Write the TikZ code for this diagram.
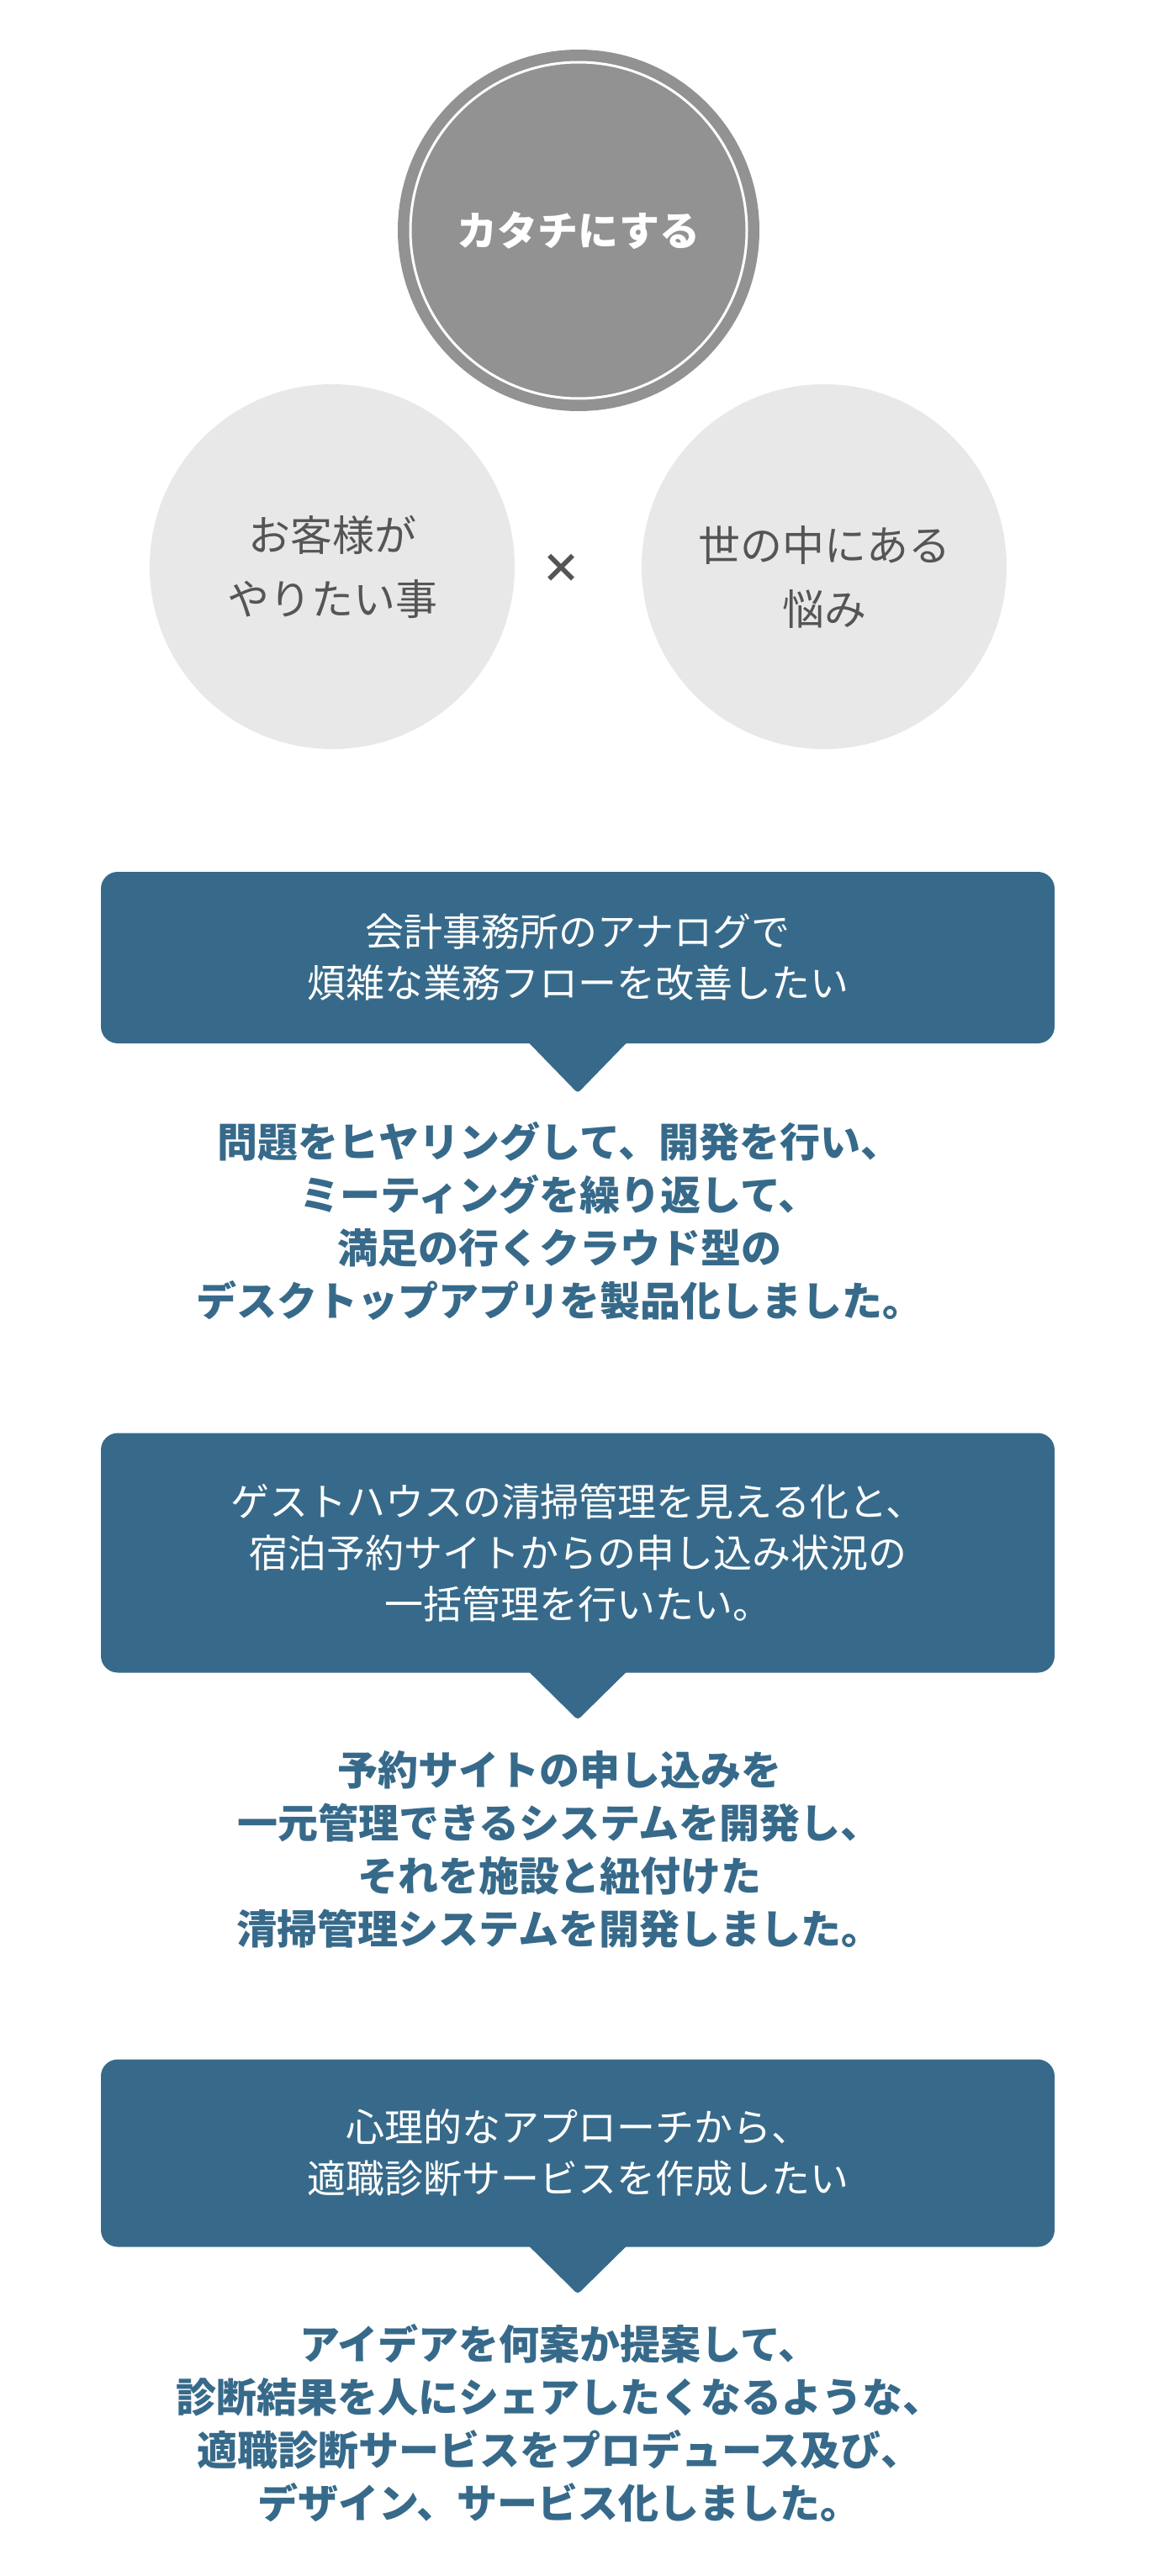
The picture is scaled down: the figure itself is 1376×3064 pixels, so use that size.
\documentclass[tikz,border=0pt]{standalone}
\usepackage{fontspec}
\setmainfont{Noto Sans CJK JP}
\usepackage{tikz}
\usetikzlibrary{shapes.geometric,positioning}
\definecolor{boxblue}{HTML}{376A8A}
\definecolor{ringgray}{HTML}{929292}
\definecolor{softgray}{HTML}{E8E8E8}
\definecolor{textgray}{HTML}{555555}
\tikzstyle{core} = [circle, minimum size=430pt, inner sep=0pt, fill=ringgray, text=white, font=\fontsize{48}{60}\selectfont\bfseries]
\tikzstyle{factor} = [circle, minimum size=434pt, inner sep=0pt, fill=softgray, text=textgray, align=center, font=\fontsize{50}{76}\selectfont]
\tikzstyle{request} = [rectangle, rounded corners=20pt, minimum width=1134pt, text width=1100pt, align=center, fill=boxblue, text=white, font=\fontsize{46}{61}\selectfont]
\tikzstyle{pointer} = [fill=boxblue, rounded corners=4pt]
\tikzstyle{result} = [align=center, text=boxblue, font=\fontsize{48}{63}\selectfont\bfseries]

\begin{document}
\begin{tikzpicture}[x=1pt,y=-1pt]
\useasboundingbox (0,0) rectangle (1376,3064);
\fill[white] (0,0) rectangle (1376,3064);

\node (katachi) [core] at (688,274) {カタチにする};
\draw [white, line width=3pt] (katachi.center) circle [radius=200pt];
\node (wish) [factor] at (395,674) {お客様が\\やりたい事};
\node (worry) [factor] at (980,674) {};
\node (worrytext) [text=textgray, align=center, font=\fontsize{50}{76}\selectfont] at (980,686) {世の中にある\\悩み};
\node (times) [text=textgray, font=\fontsize{48}{60}\selectfont\bfseries] at (667,676) {×};

\node (request1) [request, minimum height=204pt] at (687,1139) {会計事務所のアナログで\\煩雑な業務フローを改善したい};
\fill [pointer] ([xshift=-67,yshift=10]request1.south) -- ([yshift=-59]request1.south) -- ([xshift=67,yshift=10]request1.south) -- cycle;
\node (result1) [result] at (665,1452) {問題をヒヤリングして、開発を行い、\\ミーティングを繰り返して、\\満足の行くクラウド型の\\デスクトップアプリを製品化しました。};

\node (request2) [request, minimum height=285pt] at (687,1847) {ゲストハウスの清掃管理を見える化と、\\宿泊予約サイトからの申し込み状況の\\一括管理を行いたい。};
\fill [pointer] ([xshift=-67,yshift=10]request2.south) -- ([yshift=-56]request2.south) -- ([xshift=67,yshift=10]request2.south) -- cycle;
\node (result2) [result] at (665,2200) {予約サイトの申し込みを\\一元管理できるシステムを開発し、\\それを施設と紐付けた\\清掃管理システムを開発しました。};

\node (request3) [request, minimum height=223pt] at (687,2561) {心理的なアプローチから、\\適職診断サービスを作成したい};
\fill [pointer] ([xshift=-67,yshift=10]request3.south) -- ([yshift=-56]request3.south) -- ([xshift=67,yshift=10]request3.south) -- cycle;
\node (result3) [result] at (665,2882) {アイデアを何案か提案して、\\診断結果を人にシェアしたくなるような、\\適職診断サービスをプロデュース及び、\\デザイン、サービス化しました。};
\end{tikzpicture}
\end{document}
